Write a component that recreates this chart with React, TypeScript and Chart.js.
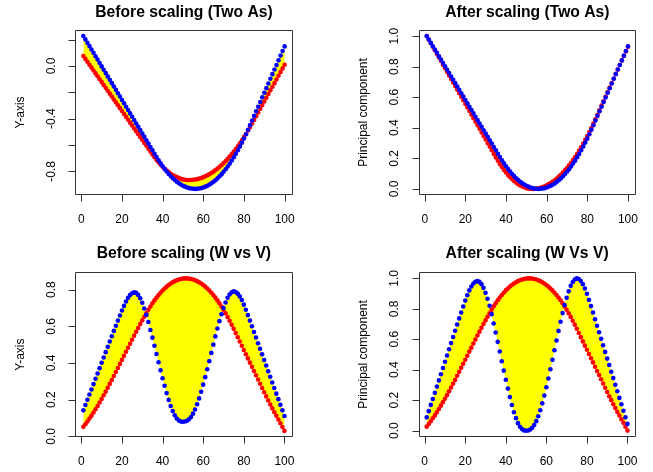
import React, { useEffect, useRef } from 'react';
import { Chart, registerables } from 'chart.js';

Chart.register(...registerables);

// ---------- data ----------
const xIndex: number[] = Array.from({ length: 100 }, (_, i) => i + 1);
const xTicks = [0, 20, 40, 60, 80, 100];
const xTickLabels = ['0', '20', '40', '60', '80', '100'];

const twoAsBeforeRed = [
  0.076, 0.054, 0.032, 0.010, -0.012, -0.034, -0.056, -0.078, -0.100, -0.122,
  -0.144, -0.166, -0.188, -0.210, -0.232, -0.254, -0.276, -0.298, -0.320, -0.342,
  -0.364, -0.386, -0.408, -0.430, -0.452, -0.474, -0.496, -0.518, -0.540, -0.562,
  -0.584, -0.606, -0.628, -0.650, -0.672, -0.693, -0.713, -0.731, -0.749, -0.765,
  -0.780, -0.794, -0.806, -0.818, -0.828, -0.837, -0.844, -0.851, -0.856, -0.861,
  -0.864, -0.865, -0.866, -0.866, -0.864, -0.862, -0.859, -0.855, -0.850, -0.844,
  -0.837, -0.830, -0.821, -0.812, -0.802, -0.790, -0.778, -0.765, -0.752, -0.737,
  -0.721, -0.705, -0.687, -0.669, -0.650, -0.630, -0.609, -0.587, -0.564, -0.540,
  -0.516, -0.490, -0.464, -0.436, -0.409, -0.381, -0.353, -0.325, -0.297, -0.269,
  -0.241, -0.213, -0.185, -0.157, -0.130, -0.102, -0.074, -0.046, -0.018, 0.010,
];
const twoAsBeforeBlue = [
  0.227, 0.202, 0.176, 0.151, 0.125, 0.100, 0.074, 0.049, 0.023, -0.003,
  -0.028, -0.054, -0.079, -0.105, -0.130, -0.156, -0.181, -0.207, -0.232, -0.258,
  -0.283, -0.309, -0.334, -0.360, -0.385, -0.411, -0.436, -0.462, -0.487, -0.513,
  -0.538, -0.564, -0.589, -0.615, -0.640, -0.666, -0.691, -0.716, -0.739, -0.761,
  -0.782, -0.801, -0.820, -0.836, -0.852, -0.866, -0.879, -0.890, -0.900, -0.909,
  -0.916, -0.922, -0.927, -0.930, -0.932, -0.933, -0.932, -0.930, -0.927, -0.922,
  -0.916, -0.909, -0.900, -0.891, -0.879, -0.867, -0.853, -0.837, -0.821, -0.803,
  -0.784, -0.763, -0.741, -0.718, -0.693, -0.667, -0.640, -0.612, -0.582, -0.551,
  -0.518, -0.484, -0.449, -0.414, -0.379, -0.344, -0.309, -0.273, -0.238, -0.203,
  -0.168, -0.133, -0.097, -0.062, -0.027, 0.008, 0.043, 0.079, 0.114, 0.149,
];
const twoAsAfterRed = [
  1.000, 0.977, 0.953, 0.930, 0.907, 0.883, 0.860, 0.837, 0.813, 0.790,
  0.766, 0.743, 0.720, 0.696, 0.673, 0.650, 0.626, 0.603, 0.580, 0.556,
  0.533, 0.510, 0.486, 0.463, 0.439, 0.416, 0.393, 0.369, 0.346, 0.323,
  0.299, 0.276, 0.253, 0.229, 0.206, 0.184, 0.162, 0.143, 0.124, 0.107,
  0.091, 0.076, 0.064, 0.051, 0.040, 0.031, 0.023, 0.016, 0.011, 0.005,
  0.002, 0.001, 0.000, 0.000, 0.002, 0.004, 0.007, 0.012, 0.017, 0.023,
  0.031, 0.038, 0.048, 0.057, 0.068, 0.081, 0.093, 0.107, 0.121, 0.137,
  0.154, 0.171, 0.190, 0.209, 0.229, 0.251, 0.273, 0.296, 0.321, 0.346,
  0.372, 0.399, 0.427, 0.456, 0.485, 0.515, 0.545, 0.574, 0.604, 0.634,
  0.663, 0.693, 0.723, 0.753, 0.781, 0.811, 0.841, 0.870, 0.900, 0.930,
];
const twoAsAfterBlue = [
  1.000, 0.978, 0.956, 0.934, 0.912, 0.891, 0.868, 0.847, 0.824, 0.802,
  0.780, 0.758, 0.736, 0.714, 0.692, 0.670, 0.648, 0.626, 0.604, 0.582,
  0.560, 0.538, 0.516, 0.494, 0.472, 0.450, 0.428, 0.406, 0.384, 0.362,
  0.341, 0.318, 0.297, 0.274, 0.253, 0.230, 0.209, 0.187, 0.167, 0.148,
  0.130, 0.114, 0.097, 0.084, 0.070, 0.058, 0.047, 0.037, 0.028, 0.021,
  0.015, 0.009, 0.005, 0.003, 0.001, 0.000, 0.001, 0.003, 0.005, 0.009,
  0.015, 0.021, 0.028, 0.036, 0.047, 0.057, 0.069, 0.083, 0.097, 0.112,
  0.128, 0.147, 0.166, 0.185, 0.207, 0.229, 0.253, 0.277, 0.303, 0.329,
  0.358, 0.387, 0.417, 0.447, 0.478, 0.508, 0.538, 0.569, 0.599, 0.629,
  0.659, 0.690, 0.721, 0.751, 0.781, 0.811, 0.841, 0.872, 0.903, 0.933,
];
const wvBeforeRed = [
  0.052, 0.066, 0.081, 0.097, 0.113, 0.130, 0.148, 0.166, 0.185, 0.204,
  0.224, 0.244, 0.265, 0.286, 0.307, 0.329, 0.351, 0.373, 0.395, 0.417,
  0.439, 0.461, 0.483, 0.505, 0.527, 0.549, 0.570, 0.591, 0.612, 0.632,
  0.652, 0.671, 0.690, 0.708, 0.725, 0.741, 0.756, 0.770, 0.783, 0.795,
  0.806, 0.816, 0.825, 0.833, 0.840, 0.846, 0.851, 0.855, 0.858, 0.860,
  0.861, 0.861, 0.860, 0.858, 0.855, 0.851, 0.846, 0.840, 0.833, 0.825,
  0.816, 0.806, 0.795, 0.783, 0.770, 0.756, 0.741, 0.725, 0.708, 0.690,
  0.671, 0.651, 0.630, 0.608, 0.586, 0.563, 0.540, 0.517, 0.494, 0.471,
  0.448, 0.425, 0.402, 0.379, 0.356, 0.333, 0.310, 0.287, 0.264, 0.241,
  0.218, 0.196, 0.174, 0.153, 0.132, 0.112, 0.092, 0.072, 0.051, 0.030,
];
const wvBeforeBlue = [
  0.142, 0.171, 0.200, 0.228, 0.256, 0.285, 0.314, 0.343, 0.372, 0.401,
  0.430, 0.459, 0.488, 0.517, 0.546, 0.575, 0.603, 0.631, 0.659, 0.686,
  0.711, 0.735, 0.755, 0.770, 0.780, 0.785, 0.782, 0.771, 0.753, 0.728,
  0.697, 0.662, 0.623, 0.580, 0.538, 0.494, 0.449, 0.404, 0.360, 0.317,
  0.276, 0.236, 0.199, 0.166, 0.138, 0.115, 0.098, 0.087, 0.081, 0.080,
  0.081, 0.085, 0.093, 0.106, 0.124, 0.147, 0.175, 0.207, 0.243, 0.282,
  0.323, 0.366, 0.410, 0.455, 0.500, 0.545, 0.588, 0.628, 0.666, 0.700,
  0.730, 0.755, 0.773, 0.785, 0.790, 0.787, 0.778, 0.763, 0.743, 0.718,
  0.690, 0.661, 0.631, 0.600, 0.569, 0.539, 0.508, 0.478, 0.447, 0.416,
  0.386, 0.355, 0.325, 0.294, 0.264, 0.233, 0.203, 0.172, 0.142, 0.111,
];
const wvAfterRed = [
  0.026, 0.043, 0.061, 0.081, 0.100, 0.120, 0.142, 0.164, 0.187, 0.209,
  0.233, 0.258, 0.283, 0.308, 0.333, 0.360, 0.386, 0.413, 0.439, 0.466,
  0.492, 0.519, 0.545, 0.572, 0.598, 0.625, 0.650, 0.675, 0.700, 0.724,
  0.748, 0.771, 0.794, 0.816, 0.836, 0.856, 0.874, 0.891, 0.906, 0.921,
  0.934, 0.946, 0.957, 0.966, 0.975, 0.982, 0.988, 0.993, 0.996, 0.999,
  1.000, 1.000, 0.999, 0.996, 0.993, 0.988, 0.982, 0.975, 0.966, 0.957,
  0.946, 0.934, 0.921, 0.906, 0.891, 0.874, 0.856, 0.836, 0.816, 0.794,
  0.771, 0.747, 0.722, 0.696, 0.669, 0.641, 0.614, 0.586, 0.558, 0.531,
  0.503, 0.475, 0.448, 0.420, 0.392, 0.365, 0.337, 0.309, 0.282, 0.254,
  0.226, 0.200, 0.173, 0.148, 0.123, 0.099, 0.075, 0.051, 0.025, 0.000,
];
const wvAfterBlue = [
  0.087, 0.128, 0.169, 0.208, 0.248, 0.289, 0.330, 0.370, 0.411, 0.452,
  0.493, 0.534, 0.575, 0.615, 0.656, 0.697, 0.737, 0.776, 0.815, 0.854,
  0.889, 0.921, 0.947, 0.966, 0.978, 0.982, 0.977, 0.962, 0.938, 0.905,
  0.866, 0.820, 0.765, 0.704, 0.645, 0.583, 0.520, 0.456, 0.394, 0.334,
  0.276, 0.220, 0.168, 0.121, 0.082, 0.049, 0.025, 0.010, 0.001, 0.000,
  0.001, 0.007, 0.018, 0.037, 0.062, 0.094, 0.134, 0.179, 0.230, 0.285,
  0.342, 0.403, 0.465, 0.528, 0.592, 0.655, 0.715, 0.772, 0.825, 0.873,
  0.915, 0.951, 0.976, 0.993, 1.000, 0.996, 0.983, 0.962, 0.934, 0.899,
  0.859, 0.818, 0.776, 0.732, 0.689, 0.646, 0.603, 0.561, 0.517, 0.473,
  0.431, 0.387, 0.345, 0.301, 0.259, 0.215, 0.173, 0.130, 0.087, 0.044,
];

const tlYTicks = [-0.8, -0.6, -0.4, -0.2, 0, 0.2];
const tlYLabels = ['-0.8', '', '-0.4', '', '0.0', ''];
const unitYTicks = [0, 0.2, 0.4, 0.6, 0.8, 1.0];
const unitYLabels = ['0.0', '0.2', '0.4', '0.6', '0.8', '1.0'];
const blYTicks = [0, 0.2, 0.4, 0.6, 0.8];
const blYLabels = ['0.0', '0.2', '0.4', '0.6', '0.8'];

// ---------- panels ----------
type PanelCfg = {
  title: string;
  yTitle: string;
  red: number[];
  blue: number[];
  yMin: number;
  yMax: number;
  yTicks: number[];
  yLabels: string[];
  left: number;
  top: number;
  width: number;
  height: number;
  pad: { left: number; top: number; right: number; bottom: number };
  titleY: number;
};

const panels: PanelCfg[] = [
  {
    title: 'Before scaling (Two As)', yTitle: 'Y-axis',
    red: twoAsBeforeRed, blue: twoAsBeforeBlue,
    yMin: -0.9794, yMax: 0.2734, yTicks: tlYTicks, yLabels: tlYLabels,
    left: 0, top: 0, width: 326, height: 236,
    pad: { left: 75.3, top: 30, right: 33.3, bottom: 41 }, titleY: 12.7,
  },
  {
    title: 'After scaling (Two As)', yTitle: 'Principal component',
    red: twoAsAfterRed, blue: twoAsAfterBlue,
    yMin: -0.04, yMax: 1.04, yTicks: unitYTicks, yLabels: unitYLabels,
    left: 326, top: 0, width: 327, height: 236,
    pad: { left: 92.7, top: 30, right: 17, bottom: 41 }, titleY: 12.7,
  },
  {
    title: 'Before scaling (W vs V)', yTitle: 'Y-axis',
    red: wvBeforeRed, blue: wvBeforeBlue,
    yMin: -0.0032, yMax: 0.8942, yTicks: blYTicks, yLabels: blYLabels,
    left: 0, top: 236, width: 326, height: 236,
    pad: { left: 75.3, top: 36.3, right: 33.5, bottom: 35 }, titleY: 17.5,
  },
  {
    title: 'After scaling (W Vs V)', yTitle: 'Principal component',
    red: wvAfterRed, blue: wvAfterBlue,
    yMin: -0.04, yMax: 1.04, yTicks: unitYTicks, yLabels: unitYLabels,
    left: 326, top: 236, width: 327, height: 236,
    pad: { left: 92.7, top: 36.3, right: 17.5, bottom: 35.3 }, titleY: 17.5,
  },
];

const FONT = '"Liberation Sans", Arial, Helvetica, sans-serif';

function makeAxesPlugin(cfg: PanelCfg) {
  return {
    id: 'rAxes',
    afterDraw(chart: any) {
      const { ctx, chartArea: a, scales } = chart;
      const xs = scales.x;
      const ys = scales.y;
      ctx.save();
      ctx.strokeStyle = '#333';
      ctx.fillStyle = '#000';
      ctx.lineWidth = 1;
      // box
      const L = Math.round(a.left) + 0.5;
      const R = Math.round(a.right) - 0.5;
      const T = Math.round(a.top) + 0.5;
      const B = Math.round(a.bottom) - 0.5;
      ctx.beginPath();
      ctx.rect(L, T, R - L, B - T);
      ctx.stroke();
      // x axis
      const tick = 7;
      ctx.beginPath();
      const x0 = Math.round(xs.getPixelForValue(xTicks[0])) + 0.5;
      const x1 = Math.round(xs.getPixelForValue(xTicks[xTicks.length - 1])) + 0.5;
      ctx.moveTo(x0, B);
      ctx.lineTo(x1, B);
      xTicks.forEach((v) => {
        const px = Math.round(xs.getPixelForValue(v)) + 0.5;
        ctx.moveTo(px, B);
        ctx.lineTo(px, B + tick);
      });
      // y axis
      const y0 = Math.round(ys.getPixelForValue(cfg.yTicks[0])) + 0.5;
      const y1 = Math.round(ys.getPixelForValue(cfg.yTicks[cfg.yTicks.length - 1])) + 0.5;
      ctx.moveTo(L, y0);
      ctx.lineTo(L, y1);
      cfg.yTicks.forEach((v) => {
        const py = Math.round(ys.getPixelForValue(v)) + 0.5;
        ctx.moveTo(L, py);
        ctx.lineTo(L - tick, py);
      });
      ctx.stroke();

      // x tick labels
      ctx.font = `12px ${FONT}`;
      ctx.textAlign = 'center';
      ctx.textBaseline = 'middle';
      xTicks.forEach((v, i) => {
        ctx.fillText(xTickLabels[i], xs.getPixelForValue(v), a.bottom + 25);
      });
      // y tick labels (rotated)
      cfg.yTicks.forEach((v, i) => {
        const lab = cfg.yLabels[i];
        if (!lab) return;
        ctx.save();
        ctx.translate(a.left - 24, ys.getPixelForValue(v));
        ctx.rotate(-Math.PI / 2);
        ctx.fillText(lab, 0, 0);
        ctx.restore();
      });
      // y title
      ctx.save();
      ctx.translate(a.left - 55, (a.top + a.bottom) / 2);
      ctx.rotate(-Math.PI / 2);
      ctx.fillText(cfg.yTitle, 0, 0);
      ctx.restore();
      // main title
      ctx.font = `bold 15.7px ${FONT}`;
      ctx.fillText(cfg.title, (a.left + a.right) / 2, cfg.titleY);
      ctx.restore();
    },
  };
}

function Panel({ cfg }: { cfg: PanelCfg }) {
  const ref = useRef<HTMLCanvasElement>(null);
  useEffect(() => {
    const canvas = ref.current;
    if (!canvas) return;
    const chart = new Chart(canvas, {
      type: 'line',
      data: {
        datasets: [
          {
            label: 'blue',
            data: xIndex.map((x, i) => ({ x, y: cfg.blue[i] })),
            showLine: false,
            borderColor: 'rgba(0,0,0,0)',
            backgroundColor: '#FFFF00',
            pointBackgroundColor: '#0000FF',
            pointBorderColor: '#0000FF',
            pointBorderWidth: 0,
            pointRadius: 2.3,
            pointHoverRadius: 2.3,
            fill: 1,
          },
          {
            label: 'red',
            data: xIndex.map((x, i) => ({ x, y: cfg.red[i] })),
            showLine: false,
            borderColor: 'rgba(0,0,0,0)',
            backgroundColor: '#FFFF00',
            pointBackgroundColor: '#FF0000',
            pointBorderColor: '#FF0000',
            pointBorderWidth: 0,
            pointRadius: 2.3,
            pointHoverRadius: 2.3,
            fill: false,
          },
        ],
      },
      options: {
        animation: false,
        responsive: false,
        devicePixelRatio: 1,
        events: [],
        layout: { padding: cfg.pad },
        plugins: {
          legend: { display: false },
          tooltip: { enabled: false },
          title: { display: false },
          filler: { drawTime: 'beforeDatasetsDraw', propagate: false },
        } as any,
        scales: {
          x: { type: 'linear', min: -2.96, max: 103.96, display: false },
          y: { type: 'linear', min: cfg.yMin, max: cfg.yMax, display: false },
        },
      },
      plugins: [makeAxesPlugin(cfg)],
    } as any);
    return () => chart.destroy();
  }, [cfg]);
  return (
    <canvas
      ref={ref}
      width={cfg.width}
      height={cfg.height}
      style={{ position: 'absolute', left: cfg.left, top: cfg.top, width: cfg.width, height: cfg.height }}
    />
  );
}

export default function App() {
  return (
    <div style={{ position: 'absolute', left: 0, top: 0, width: 653, height: 472, background: '#fff', overflow: 'hidden' }}>
      {panels.map((p) => (
        <Panel key={p.title} cfg={p} />
      ))}
    </div>
  );
}
